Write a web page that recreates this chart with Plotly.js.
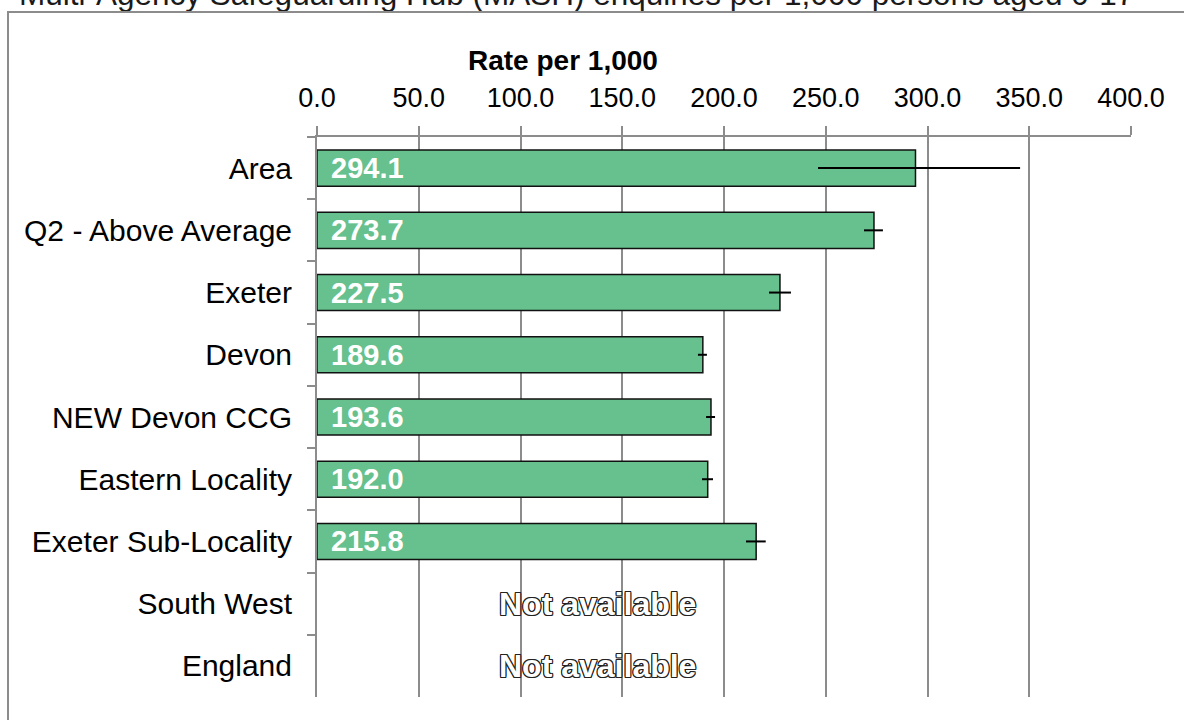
<!DOCTYPE html>
<html>
<head>
<meta charset="utf-8">
<script src="https://cdn.plot.ly/plotly-3.0.1.min.js"></script>
<style>
  html, body { margin: 0; padding: 0; background: #fff; overflow: hidden; }
  #wrap { position: relative; width: 1184px; height: 720px; overflow: hidden; }
  #chart { position: absolute; left: 0; top: 0; width: 1184px; height: 720px; }
  #frame { position: absolute; left: 7px; top: 11px; width: 1200px; height: 760px;
           border: 2px solid #8c8c8c; box-sizing: border-box; pointer-events: none; }
</style>
</head>
<body>
<div id="wrap">
  <div id="chart"></div>
  <div id="frame"></div>
</div>
<script>
// ---- data ----
const categories = ["Area", "Q2 - Above Average", "Exeter", "Devon", "NEW Devon CCG",
                    "Eastern Locality", "Exeter Sub-Locality", "South West", "England"];
const rates      = [294.1, 273.7, 227.5, 189.6, 193.6, 192.0, 215.8, null, null];
const lowerCI    = [246.2, 268.8, 222.1, 187.2, 191.2, 189.2, 210.8, null, null];
const upperCI    = [345.5, 278.1, 232.9, 191.6, 195.6, 194.6, 220.5, null, null];
const xTicks     = [0, 50, 100, 150, 200, 250, 300, 350, 400];
const chartTitle = "Multi-Agency Safeguarding Hub (MASH) enquiries per 1,000 persons aged 0-17";
const axisTitle  = "Rate per 1,000";
const missingText = "Not available";

const FONT = "Liberation Sans, Arial, sans-serif";

const plusErr  = rates.map((v, i) => v == null ? null : upperCI[i] - v);
const minusErr = rates.map((v, i) => v == null ? null : v - lowerCI[i]);

const trace = {
  type: "bar",
  orientation: "h",
  y: categories,
  x: rates,
  marker: { color: "#66C18E", line: { color: "#111111", width: 1.5 } },
  error_x: {
    type: "data", symmetric: false,
    array: plusErr, arrayminus: minusErr,
    color: "#000", thickness: 2, width: 0
  },
  hoverinfo: "skip",
  showlegend: false
};

const annotations = [];
rates.forEach((v, i) => {
  if (v != null) {
    annotations.push({
      x: 0, y: categories[i], xref: "x", yref: "y",
      text: v.toFixed(1), showarrow: false,
      xanchor: "left", yanchor: "middle", xshift: 12, yshift: 0,
      font: { family: FONT, size: 29, color: "#ffffff", weight: "bold" }
    });
  } else {
    annotations.push({
      x: 0.344, y: categories[i], xref: "paper", yref: "y",
      text: missingText, showarrow: false,
      xanchor: "center", yanchor: "middle",
      font: { family: FONT, size: 32, color: "#ffffff", weight: "bold",
              shadow: "-1px -1px 0 #222, 1px -1px 0 #222, -1px 1px 0 #222, 1px 1px 0 #222, 0 1px 0 #222, 0 -1px 0 #222, 1px 0 0 #222, -1px 0 0 #222" }
    });
  }
});
annotations.push({
  x: 0.302, y: 1.137, xref: "paper", yref: "paper",
  text: "<b>" + axisTitle + "</b>", showarrow: false,
  xanchor: "center", yanchor: "middle",
  font: { family: FONT, size: 28, color: "#000" }
});
annotations.push({
  x: -0.368, y: 1.2205, xref: "paper", yref: "paper",
  text: chartTitle, showarrow: false,
  xanchor: "left", yanchor: "bottom",
  font: { family: FONT, size: 31.5, color: "#1a1a1a" }
});

const layout = {
  width: 1184, height: 720,
  margin: { l: 317, r: 53, t: 137, b: 23, pad: 0 },
  paper_bgcolor: "rgba(0,0,0,0)",
  plot_bgcolor: "rgba(0,0,0,0)",
  bargap: 0.42,
  font: { family: FONT, size: 27, color: "#000" },
  xaxis: {
    side: "top",
    range: [0, 400],
    tickvals: xTicks,
    ticktext: xTicks.map(t => t.toFixed(1)),
    ticks: "outside", ticklen: 9, tickwidth: 2, tickcolor: "#8c8c8c",
    ticklabelstandoff: 8,
    showgrid: true, gridcolor: "#8c8c8c", gridwidth: 2,
    showline: true, linecolor: "#8c8c8c", linewidth: 2,
    zeroline: false,
    tickfont: { family: FONT, size: 27, color: "#000" },
    fixedrange: true
  },
  yaxis: {
    type: "category",
    categoryorder: "array", categoryarray: categories,
    autorange: "reversed",
    tickson: "boundaries",
    ticks: "outside", ticklen: 8, tickwidth: 2, tickcolor: "#8c8c8c",
    ticklabelstandoff: 17,
    showgrid: false,
    showline: true, linecolor: "#8c8c8c", linewidth: 2,
    zeroline: false,
    tickfont: { family: FONT, size: 30, color: "#000" },
    fixedrange: true
  },
  annotations: annotations
};

Plotly.newPlot("chart", [trace], layout, { displayModeBar: false, staticPlot: true });
</script>
</body>
</html>
